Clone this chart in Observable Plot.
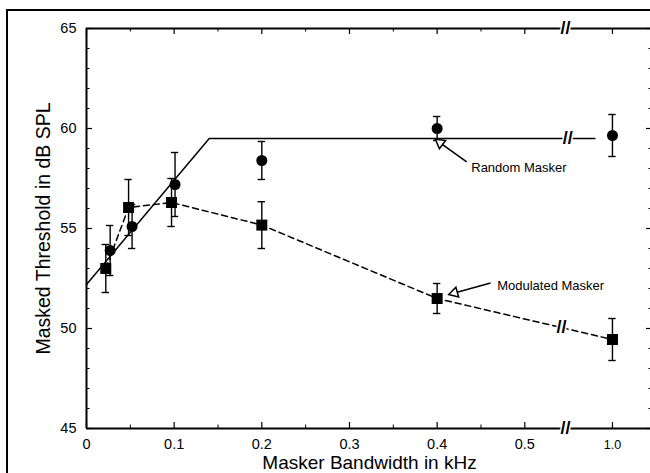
<!DOCTYPE html>
<html><head><meta charset="utf-8">
<script src="https://cdn.jsdelivr.net/npm/d3@7"></script>
<script src="https://cdn.jsdelivr.net/npm/@observablehq/plot@0.6"></script>
<style>
html,body{margin:0;padding:0;width:650px;height:473px;overflow:hidden;background:#fff;}
#chart{position:absolute;left:0;top:0;}
#frame{position:absolute;left:6px;top:9px;width:720px;height:540px;border:2px solid #000;pointer-events:none;}
</style></head><body>
<div id="chart"></div><div id="frame"></div>
<script>
// ---- Data ----
// Random masker (circles)
const randomBW   = [0.027, 0.052, 0.101, 0.2, 0.4, 1.0];
const randomThr  = [53.9, 55.1, 57.2, 58.4, 60.0, 59.65];
const randomErr  = [1.25, 1.1, 1.6, 0.95, 0.6, 1.05];
// Modulated masker (squares)
const modBW      = [0.022, 0.048, 0.097, 0.2, 0.4, 1.0];
const modThr     = [53.0, 56.05, 56.3, 55.17, 51.5, 49.45];
const modErr     = [1.2, 1.4, 1.2, 1.17, 0.75, 1.05];
// Random-masker model line (solid)
const fitBW      = [0, 0.14, 0.8];
const fitThr     = [52.2, 59.5, 59.5];
// Axis ticks
const xMajor     = [0, 0.1, 0.2, 0.3, 0.4, 0.5, 1.0];
const xLabels    = ["0", "0.1", "0.2", "0.3", "0.4", "0.5", "1.0"];
const xMinor     = [0.05, 0.15, 0.25, 0.35, 0.45];
const yMajor     = [45, 50, 55, 60, 65];
const yMinor     = [46,47,48,49,51,52,53,54,56,57,58,59,61,62,63,64];
// Annotation labels
const annLabels  = ["Random Masker", "Modulated Masker"];

// broken x-axis: 0..0.55 linear, 1.0 placed after the break
const pos = v => v <= 0.55 ? v : 0.6 + (v - 1.0) * 0.1;

const rnd = randomBW.map((x, i) => ({x, y: randomThr[i], e: randomErr[i]}));
const mod = modBW.map((x, i) => ({x, y: modThr[i], e: modErr[i]}));
const fit = fitBW.map((x, i) => ({x, y: fitThr[i]}));

const W = 652, H = 473, ML = 86, MT = 28, MB = 45;
const PW = W - ML, PH = H - MT - MB;
const capHalf = 0.0042;
const font = "'Liberation Sans', Arial, Helvetica, sans-serif";

const breaks = [
  {x: 0.5465, y: 65}, {x: 0.5465, y: 45},
  {x: 0.549, y: 59.5}, {x: 0.5419, y: 50.06}
];

const errMarks = (data) => [
  Plot.ruleX(data, {x: d => pos(d.x), y1: d => d.y - d.e, y2: d => d.y + d.e, stroke: "black", strokeWidth: 1.4}),
  Plot.ruleY(data, {y: d => d.y + d.e, x1: d => pos(d.x) - capHalf, x2: d => pos(d.x) + capHalf, stroke: "black", strokeWidth: 1.4}),
  Plot.ruleY(data, {y: d => d.y - d.e, x1: d => pos(d.x) - capHalf, x2: d => pos(d.x) + capHalf, stroke: "black", strokeWidth: 1.4})
];

const chart = Plot.plot({
  width: W, height: H,
  marginLeft: ML, marginRight: 0, marginTop: MT, marginBottom: MB,
  x: {domain: [0, PW / 876.6], axis: null},
  y: {domain: [45, 65], axis: null},
  style: {background: "transparent", maxWidth: "none", fontFamily: font, overflow: "visible", color: "black"},
  marks: [
    // axis lines
    Plot.ruleX([0], {stroke: "black", strokeWidth: 2}),
    Plot.ruleY([45], {stroke: "black", strokeWidth: 2}),
    Plot.ruleY([65], {stroke: "black", strokeWidth: 2}),
    // inward ticks: bottom / top
    Plot.ruleX(xMajor.map(pos), {insetTop: PH - 6, stroke: "black", strokeWidth: 1.2}),
    Plot.ruleX(xMinor, {insetTop: PH - 3.5, stroke: "black", strokeWidth: 1}),
    Plot.ruleX(xMajor.map(pos), {insetBottom: PH - 6, stroke: "black", strokeWidth: 1.2}),
    Plot.ruleX(xMinor, {insetBottom: PH - 3.5, stroke: "black", strokeWidth: 1}),
    // inward ticks: left / right
    Plot.ruleY(yMajor, {insetRight: PW - 6, stroke: "black", strokeWidth: 1.2}),
    Plot.ruleY(yMinor, {insetRight: PW - 3.5, stroke: "black", strokeWidth: 1}),
    Plot.ruleY(yMajor, {insetLeft: PW - 6, stroke: "black", strokeWidth: 1.2}),
    Plot.ruleY(yMinor, {insetLeft: PW - 3.5, stroke: "black", strokeWidth: 1}),
    // tick labels
    Plot.text(xMajor.slice(0, 6), {x: pos, y: 45, text: (d, i) => xLabels[i], dy: 16, fontSize: 14.5, fill: "black"}),
    Plot.text(xMajor.slice(6), {x: pos, y: 45, text: () => xLabels[6], dy: 16, fontSize: 12.5, fill: "black"}),
    Plot.text(yMajor, {x: 0, y: d => d, text: d => String(d), textAnchor: "end", dx: -10, fontSize: 14.5, fill: "black"}),
    // axis titles
    Plot.text(["Masker Bandwidth in kHz"], {frameAnchor: "bottom", lineAnchor: "middle", textAnchor: "middle", dy: 34.5, fontSize: 19, fill: "black"}),
    Plot.text(["Masked Threshold in dB SPL"], {frameAnchor: "left", lineAnchor: "middle", textAnchor: "middle", rotate: -90, dx: -42.5, fontSize: 19.5, fill: "black"}),
    // model line + dashed modulated line
    Plot.line(fit, {x: d => pos(d.x), y: "y", stroke: "black", strokeWidth: 1.5}),
    Plot.line(mod, {x: d => pos(d.x), y: "y", stroke: "black", strokeWidth: 1.5, strokeDasharray: "6,4"}),
    // error bars
    ...errMarks(rnd),
    ...errMarks(mod),
    // markers
    Plot.dot(rnd, {x: d => pos(d.x), y: "y", r: 5.5, fill: "black", stroke: "none"}),
    Plot.dot(mod, {x: d => pos(d.x), y: "y", r: 6.2, symbol: "square", fill: "black", stroke: "none"}),
    // axis breaks
    Plot.text(breaks, {x: "x", y: "y", text: () => "//", fontSize: 18, fontWeight: "bold", fill: "black", stroke: "white", strokeWidth: 3}),
    // annotation arrows
    Plot.link([annLabels[0]], {x1: 0.4337, y1: 58.33, x2: 0.4034, y2: 59.28, stroke: "black", strokeWidth: 1.6}),
    Plot.link([annLabels[1]], {x1: 0.4609, y1: 52.28, x2: 0.4197, y2: 51.78, stroke: "black", strokeWidth: 1.6}),
    Plot.dot([annLabels[0]], {x: 0.4034, y: 59.28, symbol: "triangle", r: 3.8, rotate: -53.2, fill: "white", stroke: "black", strokeWidth: 1.5}),
    Plot.dot([annLabels[1]], {x: 0.4197, y: 51.78, symbol: "triangle", r: 3.8, rotate: -105.5, fill: "white", stroke: "black", strokeWidth: 1.5}),
    Plot.text([annLabels[0]], {x: 0.4389, y: 58.05, text: d => d, textAnchor: "start", fontSize: 13, fill: "black"}),
    Plot.text([annLabels[1]], {x: 0.4685, y: 52.15, text: d => d, textAnchor: "start", fontSize: 13, fill: "black"})
  ]
});
document.getElementById("chart").appendChild(chart);
</script>
</body></html>
